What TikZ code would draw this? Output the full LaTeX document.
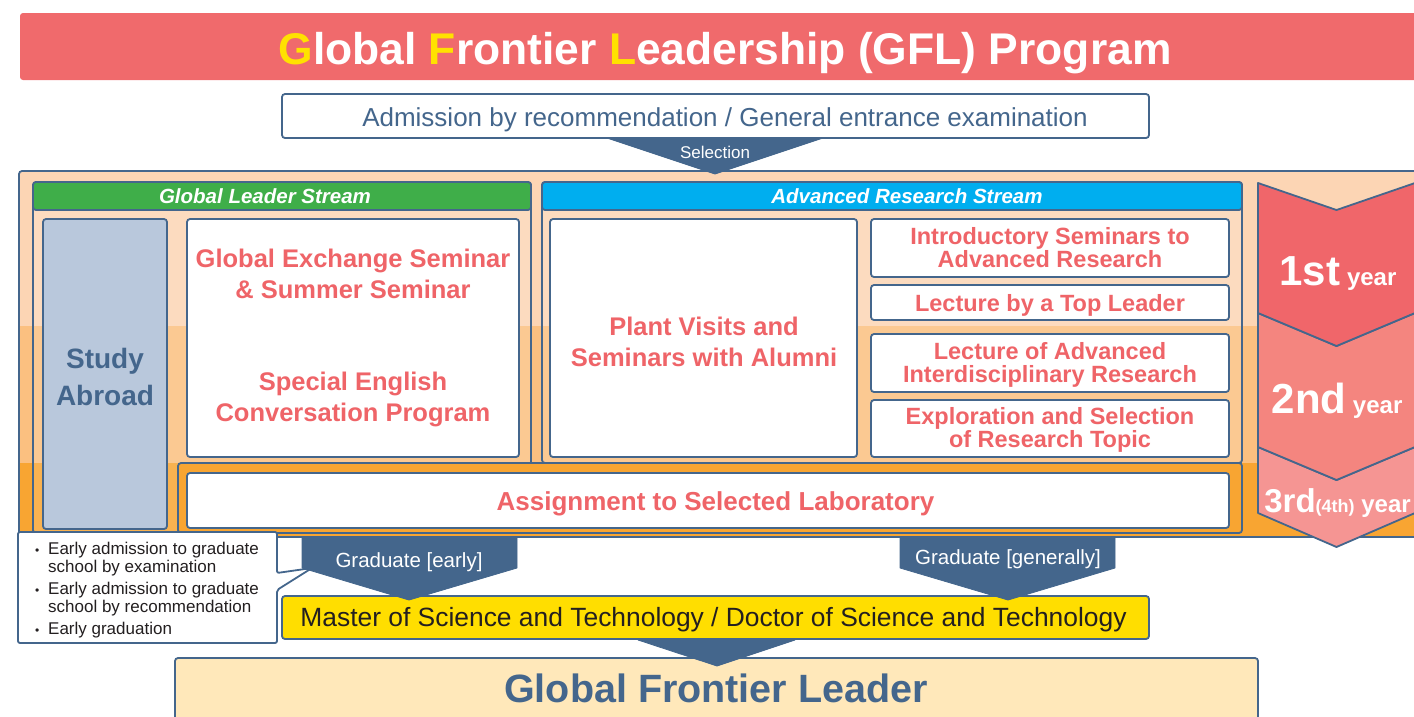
\documentclass[tikz,border=0pt]{standalone}
\usepackage{fontspec}
\setmainfont{Liberation Sans}
\usetikzlibrary{fit}
\definecolor{bc}{HTML}{44668C}
\definecolor{tred}{HTML}{F06A6C}
\definecolor{txred}{HTML}{EF6468}
\definecolor{tylw}{HTML}{FFE100}
\definecolor{cTop}{HTML}{FCD5B4}
\definecolor{cMid}{HTML}{FBC080}
\definecolor{cOra}{HTML}{F8A532}
\definecolor{cGreen}{HTML}{3FAE49}
\definecolor{cCyan}{HTML}{00AEEF}
\definecolor{cSA}{HTML}{B9C8DC}
\definecolor{cYa}{HTML}{F0666A}
\definecolor{cYb}{HTML}{F4857F}
\definecolor{cYc}{HTML}{F59593}
\definecolor{cYel}{HTML}{FFDE00}
\definecolor{cGFL}{HTML}{FFE8BA}
\definecolor{tdark}{HTML}{231F20}
\begin{document}
\begin{tikzpicture}[x=1pt,y=-1pt,
  bx/.style={draw=bc, line width=1.8pt, rounded corners=3pt, inner sep=0pt},
  wbox/.style={bx, fill=white},
  arr/.style={fill=bc, draw=bc, line width=0.8pt, line join=round},
  bigred/.style={text=txred, font=\bfseries\fontsize{25.5}{31}\selectfont, align=center, inner sep=0pt},
  smred/.style={text=txred, font=\bfseries\fontsize{23.5}{23}\selectfont, align=center, inner sep=0pt},
  hdr/.style={text=white, font=\bfseries\itshape\fontsize{20.5}{24}\selectfont, anchor=base, inner sep=0pt},
  yr/.style={draw=bc, line width=1.8pt, line join=round},
  yrtxt/.style={text=white, font=\bfseries, anchor=base, inner sep=0pt},
  grtxt/.style={text=white, font=\fontsize{20.5}{24}\selectfont, anchor=base, inner sep=0pt},
  panel/.style={bx, fill=white, fill opacity=0.15}
]
\useasboundingbox (0,0) rectangle (1414,716);

% title
\node[fit={(20,13) (1440,80)}, fill=tred, rounded corners=3pt, inner sep=0pt] (title) {};
\node[text=white, font=\bfseries\fontsize{44.4}{50}\selectfont, anchor=base, inner sep=0pt] (titletext) at (725,64)
  {\textcolor{tylw}{G}lobal \textcolor{tylw}{F}rontier \textcolor{tylw}{L}eadership (GFL) Program};

% admission
\node[wbox, fit={(282,94) (1149,138)}] (adm) {};
\node[text=bc, font=\fontsize{26}{30}\selectfont, anchor=base, inner sep=0pt] (admtext) at (725,126)
  {Admission by recommendation / General entrance examination};

% frame and bands
\fill[cTop] (19,171) rectangle (1440,326);
\fill[cMid] (19,326) rectangle (1440,463);
\fill[cOra] (19,463) rectangle (1440,537);
\node[draw=bc, line width=1.8pt, rounded corners=3pt, fit={(19,171) (1440,537)}, inner sep=0pt] (frame) {};

% panels
\node[panel, fit={(33,182) (531,533)}] (glp) {};
\node[bx, fill=cGreen, fit={(33,182) (531,210)}] (glh) {};
\node[hdr] (glhtext) at (265,203) {Global Leader Stream};
\node[panel, fit={(542,182) (1242,463)}] (arp) {};
\node[bx, fill=cCyan, fit={(542,182) (1242,210)}] (arh) {};
\node[hdr] (arhtext) at (907,203) {Advanced Research Stream};

% container for laboratory
\node[bx, fill=cOra, fit={(178,463) (1242,533)}] (cont) {};
\node[wbox, fit={(187,473) (1229,528)}] (asg) {};
\node[text=txred, font=\bfseries\fontsize{26}{30}\selectfont, anchor=base, inner sep=0pt] (asgtext) at (715.5,510)
  {Assignment to Selected Laboratory};

% boxes
\node[bx, fill=cSA, fit={(43,219) (167,529)}] (sa) {};
\node[text=bc, font=\bfseries\fontsize{28}{37}\selectfont, align=center, inner sep=0pt] (satext) at (105,376.5) {Study\\Abroad};
\node[wbox, fit={(187,219) (519,457)}] (ges) {};
\node[bigred] (gesa) at (353,273.5) {Global Exchange Seminar\\\& Summer Seminar};
\node[bigred] (gesb) at (353,399.5) {Special English\\Conversation Program};
\node[wbox, fit={(550,219) (857,457)}] (plant) {};
\node[bigred] (planttext) at (704,342) {Plant Visits and\\Seminars with Alumni};
\node[wbox, fit={(871,219) (1229,277)}] (intro) {};
\node[smred] (introtext) at (1050,248) {Introductory Seminars to\\Advanced Research};
\node[wbox, fit={(871,285) (1229,320)}] (top) {};
\node[smred, anchor=base] (toptext) at (1050,311) {Lecture by a Top Leader};
\node[wbox, fit={(871,334) (1229,392)}] (lect) {};
\node[smred] (lecttext) at (1050,365) {Lecture of Advanced\\Interdisciplinary Research};
\node[wbox, fit={(871,400) (1229,457)}] (expl) {};
\node[smred] (expltext) at (1050,429.5) {Exploration and Selection\\of Research Topic};

% year chevrons
\draw[yr, fill=cYc] (1258,447) -- (1336.5,480) -- (1415,447) -- (1415,513) -- (1336.5,547) -- (1258,513) -- cycle;
\draw[yr, fill=cYb] (1258,313) -- (1336.5,346) -- (1415,313) -- (1415,447) -- (1336.5,480) -- (1258,447) -- cycle;
\draw[yr, fill=cYa] (1258,183) -- (1336.5,210) -- (1415,183) -- (1415,313) -- (1336.5,346) -- (1258,313) -- cycle;
\node[yrtxt] (ya) at (1338,285) {\fontsize{42}{42}\selectfont 1st\fontsize{24}{24}\selectfont\ year};
\node[yrtxt] (yb) at (1337,413) {\fontsize{42}{42}\selectfont 2nd\fontsize{24}{24}\selectfont\ year};
\node[yrtxt] (yc) at (1337.5,512) {\fontsize{33}{33}\selectfont 3rd\fontsize{18}{18}\selectfont(4th)\fontsize{24}{24}\selectfont\ year};

% selection arrow
\filldraw[arr] (607,138) -- (823,138) -- (715,174) -- cycle;
\node[text=white, font=\fontsize{17}{20}\selectfont, anchor=base, inner sep=0pt] (sel) at (715,158) {Selection};

% note box with tail
\draw[draw=bc, line width=1.8pt, fill=white, rounded corners=2pt, line join=round]
  (18,532) -- (277,532) -- (277,573) -- (312,568) -- (277,590) -- (277,643) -- (18,643) -- cycle;
\node[anchor=north west, align=left, inner sep=0pt, text=tdark, font=\fontsize{17}{18.5}\selectfont] (notes) at (35,541.5)
  {\makebox[13pt][l]{\fontsize{12}{12}\selectfont•}Early admission to graduate\\
   \hspace*{13pt}school by examination\\[3pt]
   \makebox[13pt][l]{\fontsize{12}{12}\selectfont•}Early admission to graduate\\
   \hspace*{13pt}school by recommendation\\[3pt]
   \makebox[13pt][l]{\fontsize{12}{12}\selectfont•}Early graduation};

% master box
\node[bx, fill=cYel, fit={(282,596) (1149,639)}] (mst) {};
\node[text=tdark, font=\fontsize{26.4}{30}\selectfont, anchor=base, inner sep=0pt] (msttext) at (713.5,626)
  {Master of Science and Technology / Doctor of Science and Technology};

% graduate arrows
\filldraw[arr] (302,537) -- (517,537) -- (517,568) -- (409,600) -- (302,568) -- cycle;
\node[grtxt] (gre) at (409,567) {Graduate [early]};
\filldraw[arr] (900,537) -- (1115,537) -- (1115,568) -- (1008,600) -- (900,568) -- cycle;
\node[grtxt] (grg) at (1008,564) {Graduate [generally]};

% GFL box
\node[bx, fill=cGFL, fit={(175,658) (1258,740)}] (gfl) {};
\node[text=bc, font=\bfseries\fontsize{39.5}{44}\selectfont, anchor=base, inner sep=0pt] (gfltext) at (716,702) {Global Frontier Leader};
\filldraw[arr] (638,640) -- (795,640) -- (717,666) -- cycle;
\end{tikzpicture}
\end{document}
